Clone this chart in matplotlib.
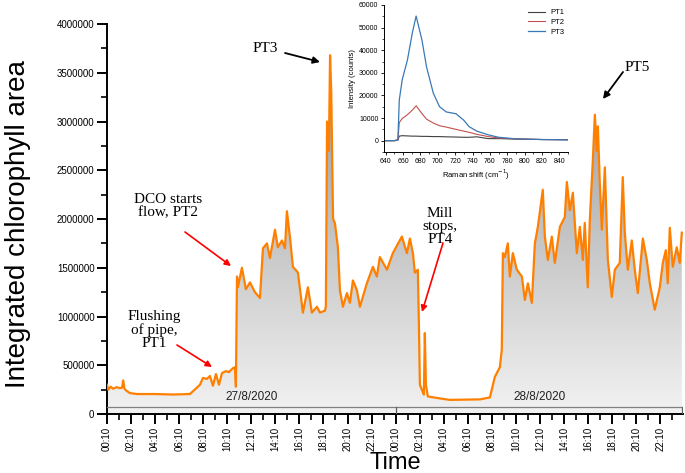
import numpy as np
import matplotlib
matplotlib.use("Agg")
import matplotlib.pyplot as plt
from matplotlib.colors import LinearSegmentedColormap
from matplotlib.patches import PathPatch
from matplotlib.ticker import MultipleLocator, FixedLocator, FuncFormatter

# ---- main series: hours since 27/8/2020 00:10, integrated chlorophyll area ----
hours = [0.0, 0.1, 0.3, 0.5, 0.8, 1.08, 1.25, 1.35, 1.45, 1.6, 1.9, 2.5, 4.0, 5.5, 6.9,
         7.73, 7.98, 8.31, 8.56, 8.81, 9.06, 9.31, 9.56, 9.89, 10.14, 10.47, 10.64, 10.72,
         10.81, 10.89, 11.22, 11.55, 11.89, 12.30, 12.72, 12.97, 13.30, 13.55, 13.97, 14.21,
         14.55, 14.80, 14.96, 15.21, 15.46, 15.88, 16.29, 16.71, 17.04, 17.46, 17.71, 18.12,
         18.2, 18.3, 18.45, 18.55, 18.65, 18.8, 18.95, 19.2, 19.37, 19.62, 19.95, 20.20,
         20.45, 20.78, 21.03, 21.61, 22.11, 22.44, 22.69, 23.28, 23.77, 24.52, 24.94, 25.19,
         25.44, 25.60, 25.85, 25.94, 26.02, 26.18, 26.35, 26.43, 26.52, 26.68, 27.68, 28.51,
         31.01, 31.84, 32.25, 32.67, 32.83, 32.92, 33.08, 33.33, 33.50, 33.75, 34.08, 34.50,
         34.75, 35.00, 35.33, 35.58, 35.83, 36.24, 36.41, 36.66, 36.99, 37.24, 37.66, 38.07,
         38.24, 38.49, 38.74, 39.07, 39.32, 39.57, 39.73, 39.98, 40.15, 40.40, 40.57, 40.73,
         40.82, 40.98, 41.15, 41.40, 41.65, 41.98, 42.23, 42.64, 42.89, 43.06, 43.31, 43.64,
         43.89, 44.14, 44.56, 44.89, 45.14, 45.55, 45.97, 46.22, 46.47, 46.63, 46.80, 47.05,
         47.38, 47.63, 47.80]
area_k = [300, 250, 280, 260, 275, 265, 270, 345, 260, 240, 215, 205, 205, 200, 205,
          300, 370, 360, 390, 290, 410, 300, 420, 440, 430, 470, 480, 280,
          1410, 1300, 1500, 1280, 1350, 1250, 1190, 1700, 1750, 1600, 1890, 1710,
          1780, 1700, 2080, 1820, 1510, 1450, 1040, 1300, 1040, 1100, 1040, 1060,
          1100, 3000, 2700, 3680, 3300, 2000, 1960, 1710, 1270, 1100, 1240, 1140,
          1370, 1270, 1100, 1340, 1510, 1410, 1610, 1480, 1650, 1820, 1650, 1800,
          1650, 1450, 1480, 900, 300, 250, 200, 830, 300, 180, 160, 145,
          150, 170, 380, 480, 660, 1650, 1610, 1750, 1410, 1650, 1480, 1410,
          1170, 1340, 1140, 1750, 1920, 2300, 1820, 1580, 1820, 1550, 1920, 2020,
          2380, 2090, 2270, 1650, 1920, 1580, 1960, 1300, 1990, 2600, 3070, 2700,
          2950, 2370, 1890, 2530, 1580, 1200, 1480, 1550, 2430, 1860, 1480, 1780,
          1480, 1240, 1800, 1580, 1340, 1070, 1300, 1550, 1680, 1340, 1910, 1510,
          1710, 1550, 1860]
area = np.array(area_k) * 1000.0
hours = np.array(hours)

xtick_hours = list(range(0, 48, 2))
xtick_labels = ["%02d:10" % (h % 24) for h in xtick_hours]
date_labels = ["27/8/2020", "28/8/2020"]
date_centers = [12, 36]

# ---- inset spectra ----
raman = [638, 650, 654, 655.6, 659, 665, 670.6, 675, 681.7, 687, 694.8, 702, 709.7, 721,
         730, 736, 745, 758, 770, 790, 820, 850]
pt1 = [0, 0, 300, 2000, 2200, 2100, 2000, 2000, 1900, 1900, 1800, 1800, 1700, 1600,
       1500, 1500, 1700, 900, 900, 700, 500, 400]
pt2 = [0, 0, 300, 8000, 9800, 11500, 13500, 15400, 12000, 9500, 7800, 6600, 6000, 5000,
       4200, 3700, 2800, 1800, 1200, 800, 500, 400]
pt3 = [0, 0, 400, 18000, 27000, 35700, 47600, 55100, 44500, 32600, 21000, 15000, 12700,
       11900, 9000, 6200, 4200, 2600, 1500, 800, 500, 400]

plt.rcParams['font.family'] = ['Liberation Sans', 'DejaVu Sans']

fig = plt.figure(figsize=(6.85, 4.73), dpi=100)
ax = fig.add_axes([0.1562, 0.1247, 0.8409, 0.8245])
xmax = 47.9
ax.set_xlim(0, xmax)
ax.set_ylim(0, 4e6)

# gradient fill under curve
poly = ax.fill_between(hours, area, 0, facecolor='none', edgecolor='none')
path = poly.get_paths()[0]
patch = PathPatch(path, transform=ax.transData, facecolor='none', edgecolor='none')
ax.add_patch(patch)
cmap = LinearSegmentedColormap.from_list('g', ['#f2f2f2', '#8e8e8e'])
grad = np.linspace(0, 1, 256).reshape(-1, 1)
im = ax.imshow(grad, extent=[0, xmax, 0, 4e6], origin='lower', aspect='auto',
               cmap=cmap, zorder=1, interpolation='bilinear')
im.set_clip_path(patch)

ax.plot(hours, area, color='#ff8000', lw=1.6, zorder=3)

# date band
ax.plot([0, 47.8], [72000, 72000], color='#808080', lw=0.9, zorder=4)
ax.plot([24, 24], [0, 72000], color='#606060', lw=0.9, zorder=4)
ax.plot([47.8, 47.8], [0, 72000], color='#606060', lw=0.9, zorder=4)
for lab, c in zip(date_labels, date_centers):
    ax.text(c, 170000, lab, ha='center', va='center', fontsize=8.5, color='#222222', zorder=5)

# axes styling
for s in ['top', 'right']:
    ax.spines[s].set_visible(False)
for s in ['left', 'bottom']:
    ax.spines[s].set_linewidth(1.4)
ax.yaxis.set_major_locator(MultipleLocator(500000))
ax.yaxis.set_minor_locator(MultipleLocator(250000))
ax.yaxis.set_major_formatter(FuncFormatter(lambda v, p: "%d" % v))
ax.xaxis.set_major_locator(FixedLocator(xtick_hours))
ax.xaxis.set_minor_locator(FixedLocator(list(range(1, 48, 2))))
ax.set_xticklabels(xtick_labels, rotation=90)
ax.tick_params(axis='both', which='major', length=7, width=1.4, labelsize=7, pad=2)
ax.tick_params(axis='both', which='minor', length=4, width=1.2)
fig.text(395 / 685, 1 - 463 / 473, 'Time', fontsize=17, ha='center', va='center')
fig.text(18 / 685, 1 - 224 / 473, 'Integrated chlorophyll area', fontsize=20,
         rotation=90, ha='center', va='center')

# annotations
serif = ['Liberation Serif', 'DejaVu Serif']
def px(x, y):
    return (x / 685.0, 1 - y / 473.0)

def arrow(p_to, p_from, color, lw, ms):
    ax.annotate('', xy=px(*p_to), xytext=px(*p_from), xycoords='figure fraction',
                textcoords='figure fraction',
                arrowprops=dict(arrowstyle='-|>', color=color, lw=lw, mutation_scale=ms,
                                shrinkA=0, shrinkB=0))

arrow((320, 62), (285, 53), 'black', 1.3, 10)
fig.text(265 / 685, 1 - 48 / 473, 'PT3', fontsize=11, family=serif, ha='center', va='center')
arrow((603, 99), (623, 72), 'black', 1.3, 10)
fig.text(637 / 685, 1 - 67 / 473, 'PT5', fontsize=11, family=serif, ha='center', va='center')
fig.text(168 / 685, 1 - 206 / 473, 'DCO starts\nflow, PT2', fontsize=11, family=serif,
         ha='center', va='center', linespacing=1.05)
arrow((231, 266), (185, 232), 'red', 1.2, 9)
fig.text(154 / 685, 1 - 330 / 473, 'Flushing\nof pipe,\nPT1', fontsize=11, family=serif,
         ha='center', va='center', linespacing=1.0)
arrow((212, 367), (177, 345), 'red', 1.2, 9)
fig.text(440 / 685, 1 - 226 / 473, 'Mill\nstops,\nPT4', fontsize=11, family=serif,
         ha='center', va='center', linespacing=1.0)
arrow((422, 312), (443, 243), 'red', 1.2, 9)

# inset
ins = fig.add_axes([0.5606, 0.6787, 0.2686, 0.3108])
ins.plot(raman, pt1, color='#404040', lw=0.8, label='PT1')
ins.plot(raman, pt2, color='#c0504d', lw=0.8, label='PT2')
ins.plot(raman, pt3, color='#3a78b5', lw=0.9, label='PT3')
ins.set_xlim(638, 850)
ins.set_ylim(-5000, 60000)
for s in ['top', 'right']:
    ins.spines[s].set_visible(False)
for s in ['left', 'bottom']:
    ins.spines[s].set_linewidth(0.7)
ins.xaxis.set_major_locator(MultipleLocator(20))
ins.xaxis.set_minor_locator(MultipleLocator(10))
ins.yaxis.set_major_locator(MultipleLocator(10000))
ins.yaxis.set_minor_locator(MultipleLocator(5000))
ins.tick_params(axis='both', which='major', length=2.5, width=0.6, labelsize=5, pad=1.5)
ins.tick_params(axis='both', which='minor', length=1.5, width=0.5)
ins.set_xlabel('Raman shift (cm$^{-1}$)', fontsize=5.5, labelpad=2)
ins.set_ylabel('Intensity (counts)', fontsize=5.5, labelpad=2)
ins.patch.set_alpha(0)
ins.legend(loc='upper right', fontsize=5.5, frameon=False, handlelength=2.2,
           labelspacing=0.3, bbox_to_anchor=(1.02, 1.02))

fig.savefig('out.png', dpi=100)
